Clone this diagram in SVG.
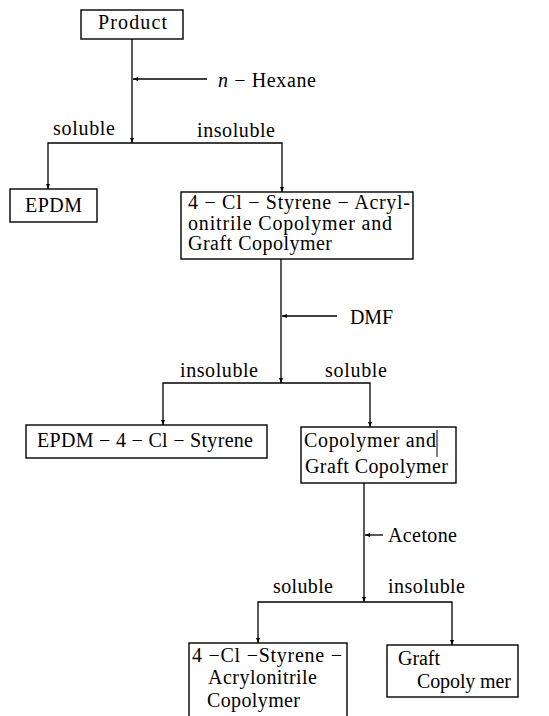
<svg xmlns="http://www.w3.org/2000/svg" width="549" height="716" viewBox="0 0 549 716">
<style>
rect.box{fill:none;stroke:#000;stroke-width:1.4}
text{font-family:"Liberation Serif","Times New Roman",serif;font-size:20px;fill:#000}
.c path,.c line{fill:none;stroke:#000;stroke-width:1.3}
</style>
<defs>
<marker id="ah" viewBox="0 0 10 10" refX="10" refY="5" markerWidth="5" markerHeight="6" orient="auto" markerUnits="userSpaceOnUse">
<path d="M0,1 L10,5 L0,9 z" fill="#000"/>
</marker>
</defs>
<rect width="549" height="716" fill="#fff"/>
<g class="c" id="connectors">
<path d="M132,39 V143" marker-end="url(#ah)"/>
<path d="M132,143 H48 V189" marker-end="url(#ah)"/>
<path d="M132,143 H282 V192" marker-end="url(#ah)"/>
<path d="M207,79 H133" marker-end="url(#ah)"/>
<path d="M281,259 V383" marker-end="url(#ah)"/>
<path d="M281,383 H163 V425" marker-end="url(#ah)"/>
<path d="M281,383 H370 V427" marker-end="url(#ah)"/>
<path d="M337,316 H282" marker-end="url(#ah)"/>
<path d="M364,483 V602" marker-end="url(#ah)"/>
<path d="M364,602 H258 V643" marker-end="url(#ah)"/>
<path d="M364,602 H452 V645" marker-end="url(#ah)"/>
<path d="M383,535 H365" marker-end="url(#ah)"/>
</g>
<g id="labels">
<text x="218" y="87" textLength="98"><tspan font-style="italic">n</tspan> − Hexane</text>
<text x="53" y="135" textLength="62">soluble</text>
<text x="197" y="137" textLength="78">insoluble</text>
<text x="350" y="324" textLength="43">DMF</text>
<text x="180" y="377" textLength="78">insoluble</text>
<text x="325" y="377" textLength="62">soluble</text>
<text x="388" y="542" textLength="69">Acetone</text>
<text x="273" y="593" textLength="60">soluble</text>
<text x="388" y="593" textLength="77">insoluble</text>
</g>
<g id="product">
<rect class="box" x="81" y="10" width="102" height="29"/>
<text x="98" y="29" textLength="69">Product</text>
</g>
<g id="epdm">
<rect class="box" x="10" y="189" width="87" height="33"/>
<text x="25" y="212" textLength="57">EPDM</text>
</g>
<g id="insoluble-hexane">
<rect class="box" x="181" y="192" width="232" height="67"/>
<text x="188" y="209" textLength="222">4 − Cl − Styrene − Acryl-</text>
<text x="188" y="230" textLength="204">onitrile Copolymer and</text>
<text x="188" y="250" textLength="144">Graft Copolymer</text>
</g>
<g id="epdm-styrene">
<rect class="box" x="26" y="425" width="241" height="33"/>
<text x="37" y="447" textLength="216">EPDM − 4 − Cl − Styrene</text>
</g>
<g id="copolymer-graft">
<rect class="box" x="301" y="427" width="155" height="56"/>
<text x="304" y="447" textLength="132">Copolymer and</text>
<line x1="437" y1="430" x2="437" y2="457" stroke="#000" stroke-width="1"/>
<text x="305" y="473" textLength="143">Graft Copolymer</text>
</g>
<g id="san-copolymer">
<rect class="box" x="189" y="643" width="158" height="90"/>
<text x="192" y="662" textLength="150">4 −Cl −Styrene −</text>
<text x="208" y="684" textLength="109">Acrylonitrile</text>
<text x="207" y="707" textLength="93">Copolymer</text>
</g>
<g id="graft-copolymer">
<rect class="box" x="387" y="645" width="131" height="52"/>
<text x="398" y="665" textLength="42">Graft</text>
<text x="417" y="688" textLength="94">Copoly mer</text>
</g>
</svg>
